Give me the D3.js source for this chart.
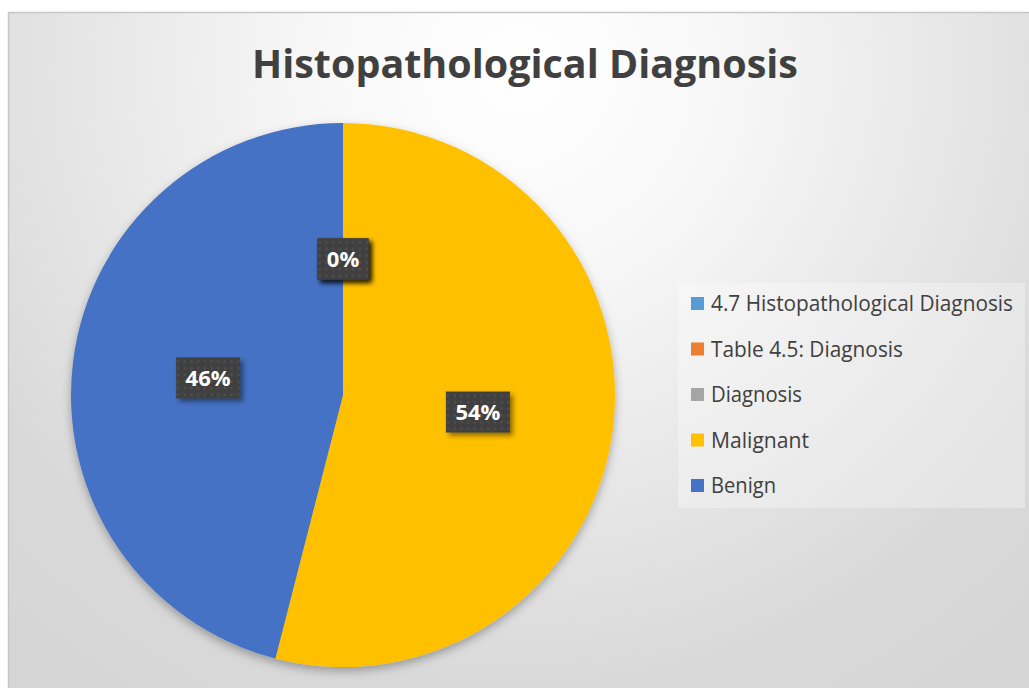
<!DOCTYPE html>
<html>
<head>
<meta charset="utf-8">
<script src="https://cdn.jsdelivr.net/npm/d3@7"></script>
<style>
html,body{margin:0;padding:0;background:#fff;}
svg{display:block;}
</style>
</head>
<body>
<svg id="chart" width="1029" height="688"></svg>
<script>
const title = "Histopathological Diagnosis";
const categories = ["4.7 Histopathological Diagnosis", "Table 4.5: Diagnosis", "Diagnosis", "Malignant", "Benign"];
const values = [0, 0, 0, 54, 46];
const colors = ["#5b9bd5", "#ed7d31", "#a5a5a5", "#ffc000", "#4472c4"];

const svg = d3.select("#chart");
const defs = svg.append("defs");

const grad = defs.append("radialGradient").attr("id", "bg")
  .attr("gradientUnits", "userSpaceOnUse")
  .attr("cx", 520).attr("cy", 70).attr("r", 820);
grad.append("stop").attr("offset", "0").attr("stop-color", "#ffffff");
grad.append("stop").attr("offset", "0.25").attr("stop-color", "#f7f7f7");
grad.append("stop").attr("offset", "0.75").attr("stop-color", "#d9d9d9");
grad.append("stop").attr("offset", "1").attr("stop-color", "#d4d4d4");

const shadow = defs.append("filter").attr("id", "pieShadow")
  .attr("x", "-20%").attr("y", "-20%").attr("width", "140%").attr("height", "140%");
shadow.append("feDropShadow").attr("dx", 0).attr("dy", 4).attr("stdDeviation", 5)
  .attr("flood-color", "#000").attr("flood-opacity", 0.3);

const lblShadow = defs.append("filter").attr("id", "lblShadow")
  .attr("x", "-30%").attr("y", "-30%").attr("width", "160%").attr("height", "160%");
lblShadow.append("feDropShadow").attr("dx", 3).attr("dy", 3).attr("stdDeviation", 2.5)
  .attr("flood-color", "#000").attr("flood-opacity", 0.45);

const pat = defs.append("pattern").attr("id", "dots")
  .attr("patternUnits", "userSpaceOnUse").attr("width", 6.7).attr("height", 6.7);
pat.append("rect").attr("width", 6.7).attr("height", 6.7).attr("fill", "#404040");
pat.append("rect").attr("x", 2.5).attr("y", 2.5).attr("width", 2).attr("height", 2).attr("fill", "#545454");

// background
svg.append("rect").attr("x", 0).attr("y", 0).attr("width", 1029).attr("height", 688).attr("fill", "#fff");
svg.append("rect").attr("x", 8.5).attr("y", 12.5).attr("width", 1040).attr("height", 700)
  .attr("fill", "url(#bg)").attr("stroke", "#c6c6c6").attr("stroke-width", 1.5);

// title
svg.append("text").attr("x", 525).attr("y", 78)
  .attr("text-anchor", "middle")
  .attr("font-family", "'Open Sans', 'Noto Sans', sans-serif")
  .attr("font-weight", "bold").attr("font-size", 39)
  .attr("fill", "#404040")
  .attr("textLength", 546).attr("lengthAdjust", "spacingAndGlyphs")
  .text(title);

// pie
const cx = 343, cy = 395, r = 272;
const pie = d3.pie().sort(null).value(d => d.v);
const data = categories.map((c, i) => ({c, v: values[i], color: colors[i]}));
const arcs = pie(data);
const arc = d3.arc().innerRadius(0).outerRadius(r);
const labelArc = d3.arc().innerRadius(r * 0.5).outerRadius(r * 0.5);

const g = svg.append("g").attr("transform", `translate(${cx},${cy})`);
g.append("g").attr("filter", "url(#pieShadow)")
  .selectAll("path").data(arcs).join("path")
  .attr("d", arc).attr("fill", d => d.data.color);

const total = d3.sum(values);
const lbls = g.selectAll("g.lbl").data(arcs).join("g").attr("class", "lbl")
  .attr("transform", d => `translate(${labelArc.centroid(d)})`);
lbls.each(function(d) {
  const sel = d3.select(this);
  const txt = Math.round(d.data.v / total * 100) + "%";
  const w = txt.length === 2 ? 51 : 64, h = 41;
  sel.append("rect").attr("x", -w / 2).attr("y", -h / 2).attr("width", w).attr("height", h)
    .attr("fill", "url(#dots)").attr("filter", "url(#lblShadow)");
  sel.append("text").attr("text-anchor", "middle").attr("dy", 8)
    .attr("font-family", "'Open Sans', 'Noto Sans', sans-serif")
    .attr("font-weight", "bold").attr("font-size", 22).attr("fill", "#ffffff")
    .text(txt);
});

// legend
const lg = svg.append("g");
lg.append("rect").attr("x", 678).attr("y", 283).attr("width", 347).attr("height", 225)
  .attr("fill", "#ffffff").attr("fill-opacity", 0.3);
const rowY = d3.scalePoint().domain(categories).range([303, 485]);
const legW = {"4.7 Histopathological Diagnosis": 302, "Table 4.5: Diagnosis": 192, "Diagnosis": 91, "Malignant": 98, "Benign": 65};
const items = lg.selectAll("g.item").data(data).join("g").attr("class", "item")
  .attr("transform", d => `translate(0,${rowY(d.c)})`);
items.append("rect").attr("x", 691).attr("y", -6).attr("width", 13).attr("height", 13)
  .attr("fill", d => d.color);
items.append("text").attr("x", 711).attr("y", 8)
  .attr("font-family", "'Open Sans', 'Noto Sans', sans-serif")
  .attr("font-size", 21).attr("fill", "#404040")
  .attr("textLength", d => legW[d.c]).attr("lengthAdjust", "spacingAndGlyphs")
  .text(d => d.c);
</script>
</body>
</html>
